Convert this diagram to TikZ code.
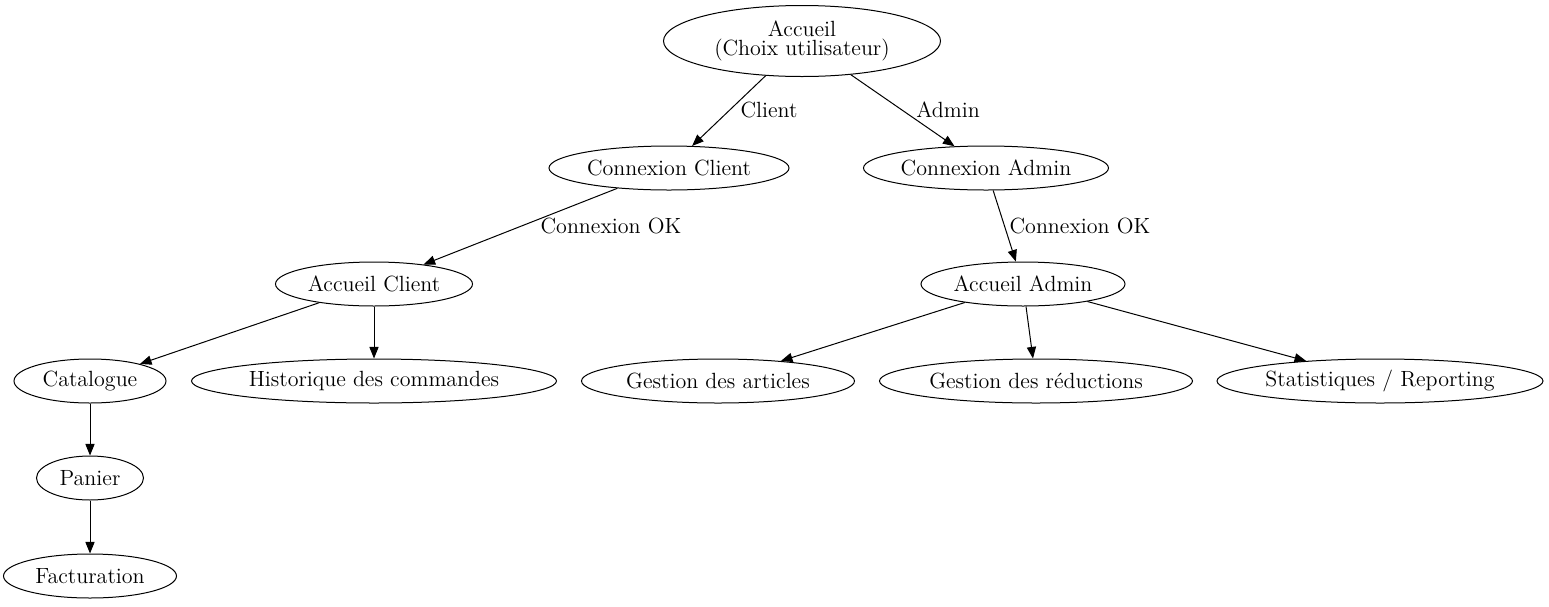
\documentclass[tikz,border=0pt]{standalone}
\usetikzlibrary{shapes.geometric,arrows.meta}
\begin{document}
\begin{tikzpicture}[x=0.5pt,y=-0.5pt,font=\fontsize{11}{9.5}\selectfont,
  etat/.style={ellipse,draw,line width=0.5pt,inner sep=0pt,minimum height=22pt},
  fleche/.style={-{Triangle[length=5.8pt,width=4.6pt]},line width=0.5pt},
  lbl/.style={inner sep=0pt}]
  \useasboundingbox (0,0) rectangle (1549,606);
  % choix
  \node[etat,minimum width=138.5pt,minimum height=35.5pt,align=center] (accueil) at (802,41)
    {Accueil\\(Choix utilisateur)};
  \node[etat,minimum width=120pt] (cxclient) at (669,168) {Connexion Client};
  \node[etat,minimum width=122.5pt] (cxadmin) at (986,168) {Connexion Admin};
  % espaces
  \node[etat,minimum width=98.5pt] (acclient) at (374,284) {Accueil Client};
  \node[etat,minimum width=102pt] (accadmin) at (1023,284) {Accueil Admin};
  % pages client
  \node[etat,minimum width=76pt] (catalogue) at (90,381) {Catalogue};
  \node[etat,minimum width=182.5pt] (historique) at (374,381) {Historique des commandes};
  \node[etat,minimum width=53.5pt] (panier) at (90,478) {Panier};
  \node[etat,minimum width=86.5pt] (facturation) at (90,576) {Facturation};
  % pages admin
  \node[etat,minimum width=136.5pt] (articles) at (718,381) {Gestion des articles};
  \node[etat,minimum width=156.5pt] (reductions) at (1036,381) {Gestion des réductions};
  \node[etat,minimum width=163pt] (stats) at (1380,381) {Statistiques / Reporting};
  % liens
  \draw[fleche] (accueil) -- (cxclient);
  \draw[fleche] (accueil) -- (cxadmin);
  \draw[fleche] (cxclient) -- (acclient);
  \draw[fleche] (cxadmin) -- (accadmin);
  \draw[fleche] (acclient) -- (catalogue);
  \draw[fleche] (acclient) -- (historique);
  \draw[fleche] (accadmin) -- (articles);
  \draw[fleche] (accadmin) -- (reductions);
  \draw[fleche] (accadmin) -- (stats);
  \draw[fleche] (catalogue) -- (panier);
  \draw[fleche] (panier) -- (facturation);
  \node[lbl] (lclient) at (769,110) {Client};
  \node[lbl] (ladmin) at (948,110) {Admin};
  \node[lbl] (lokclient) at (611,226) {Connexion OK};
  \node[lbl] (lokadmin) at (1080,226) {Connexion OK};
\end{tikzpicture}
\end{document}
